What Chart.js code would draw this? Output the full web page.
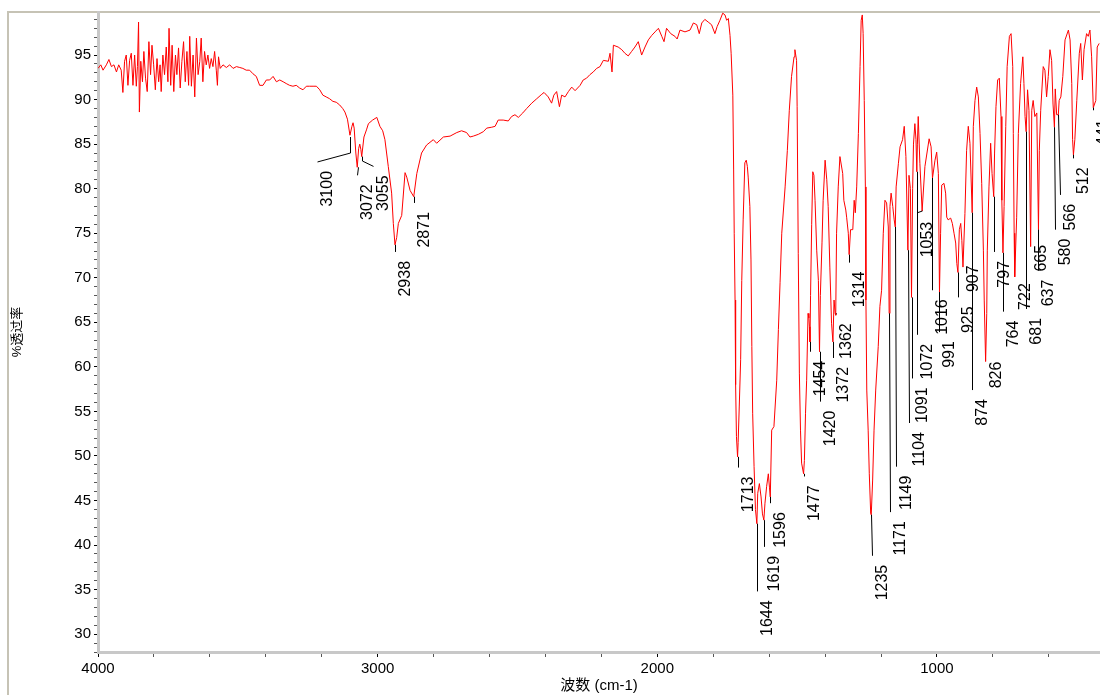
<!DOCTYPE html>
<html>
<head>
<meta charset="utf-8">
<script src="https://cdn.jsdelivr.net/npm/chart.js@4.4.1/dist/chart.umd.min.js"></script>
<style>
  html, body { margin: 0; padding: 0; background: #fff; overflow: hidden; }
  #ir { display: block; }
</style>
</head>
<body>
<canvas id="ir" width="1100" height="695"></canvas>
<script>
Chart.defaults.font.family = '"Liberation Sans", Arial, "Noto Sans CJK SC", sans-serif';

// spectrum, [wavenumber cm-1, %T]
const noisyBand = [
  [4000, 93.5], [3990, 93.9], [3982, 93.3], [3970, 93.9], [3961, 94.5], [3952, 93.7], [3943, 93.9], [3934, 93.1],
  [3926, 93.9], [3917, 93.3], [3911, 90.8], [3905, 94.3], [3899, 95.0], [3893, 91.6], [3887, 94.4], [3881, 95.2],
  [3875, 91.6], [3869, 95.0], [3863, 91.5], [3859, 93.7], [3855, 98.7], [3852, 88.6], [3847, 94.3], [3841, 92.0],
  [3836, 95.4], [3830, 92.4], [3824, 90.9], [3818, 96.5], [3812, 92.8], [3807, 96.1], [3801, 93.9], [3795, 91.1],
  [3789, 94.6], [3783, 92.0], [3778, 93.9], [3774, 90.9], [3768, 95.0], [3762, 92.8], [3756, 95.9], [3750, 92.0],
  [3746, 98.0], [3740, 91.6], [3735, 96.1], [3729, 90.9], [3723, 95.0], [3718, 92.8], [3712, 95.8], [3706, 91.3],
  [3700, 94.3], [3694, 96.5], [3688, 92.0], [3682, 95.4], [3676, 91.6], [3672, 97.1], [3666, 91.5], [3660, 95.0],
  [3654, 90.3], [3648, 96.9], [3642, 92.8], [3636, 94.3], [3631, 96.9], [3625, 92.0], [3619, 95.4], [3613, 93.9],
  [3607, 95.0], [3601, 93.5], [3595, 94.6], [3589, 93.7], [3583, 95.4], [3577, 93.3], [3573, 91.6], [3569, 94.8],
  [3563, 93.5], [3553, 93.9], [3541, 93.6], [3529, 93.9], [3517, 93.5], [3505, 93.7]
];
const chBand = [
  [3493, 93.6], [3482, 93.5], [3470, 93.3], [3458, 93.3], [3446, 92.9], [3434, 92.6], [3422, 91.6], [3410, 91.6],
  [3398, 92.2], [3386, 92.2], [3374, 92.6], [3362, 92.0], [3350, 92.2], [3338, 92.0], [3327, 91.8], [3315, 91.6],
  [3303, 91.5], [3291, 91.6], [3279, 91.3], [3267, 91.1], [3255, 91.5], [3243, 91.5], [3231, 91.5], [3219, 91.5],
  [3207, 91.1], [3196, 90.5], [3184, 90.3], [3172, 90.1], [3160, 89.8], [3148, 89.7], [3136, 89.4], [3125, 89.0],
  [3117, 88.6], [3108, 87.8], [3099, 86.0], [3092, 87.0], [3088, 87.4], [3084, 86.8], [3078, 84.0], [3073, 82.4],
  [3068, 84.5], [3064, 85.0], [3060, 84.4], [3057, 83.6], [3049, 85.8], [3040, 86.6], [3033, 87.3], [3018, 87.7],
  [3003, 88.0], [2992, 87.0], [2982, 86.5], [2974, 85.5], [2962, 82.5], [2950, 79.5], [2944, 76.1], [2938, 73.7],
  [2932, 74.5], [2926, 76.1], [2914, 77.0], [2902, 81.8], [2896, 81.3], [2884, 79.8], [2871, 79.1], [2860, 81.7],
  [2843, 84.0], [2825, 84.9], [2801, 85.5], [2789, 85.1]
];
const midBand = [
  [2765, 85.8], [2741, 85.9], [2717, 86.3], [2700, 86.5], [2682, 86.3], [2670, 85.8], [2658, 85.9], [2640, 86.1],
  [2622, 86.4], [2610, 86.8], [2592, 86.9], [2580, 87.0], [2569, 87.7], [2551, 87.7], [2533, 87.6], [2521, 88.1],
  [2509, 88.3], [2497, 88.0], [2481, 88.5], [2467, 89.0], [2449, 89.6], [2431, 90.1], [2413, 90.6], [2405, 90.8],
  [2390, 90.3], [2378, 89.6], [2370, 90.5], [2360, 90.9], [2350, 89.2], [2342, 90.5], [2330, 90.3], [2318, 90.9],
  [2306, 91.4], [2294, 91.0], [2276, 91.6], [2265, 92.2], [2253, 92.4], [2241, 92.8], [2229, 93.1], [2217, 93.5],
  [2205, 93.7], [2193, 94.4], [2175, 94.3], [2169, 95.2], [2162, 93.1], [2157, 96.1], [2140, 95.9], [2127, 95.6],
  [2116, 95.2], [2104, 94.9], [2092, 95.4], [2080, 95.9], [2068, 96.5], [2056, 95.0], [2044, 95.9], [2032, 96.7],
  [2020, 97.2], [2008, 97.6], [1996, 98.0], [1984, 97.1], [1976, 96.5], [1967, 98.0], [1952, 97.4], [1937, 97.1],
  [1929, 96.8], [1919, 97.8], [1901, 97.6], [1883, 97.8], [1871, 98.6], [1859, 98.4], [1850, 97.4], [1841, 98.6],
  [1830, 99.0], [1818, 98.7], [1806, 98.4], [1794, 97.4], [1786, 98.2], [1776, 98.9], [1766, 99.7], [1758, 99.5],
  [1752, 98.9], [1746, 99.1], [1740, 97.2]
];
const carbonylBand = [
  [1736, 95.2], [1730, 90.5], [1727, 82.1], [1725, 75.0], [1722, 67.5], [1720, 58.0], [1717, 52.2], [1713, 49.9],
  [1711, 51.5], [1707, 55.5], [1702, 60.8], [1698, 69.7], [1693, 76.5], [1687, 82.9], [1682, 83.2], [1678, 82.5],
  [1675, 81.3], [1669, 78.0], [1665, 72.0], [1662, 62.3], [1659, 54.8], [1654, 48.8], [1649, 44.0], [1644, 42.4],
  [1641, 45.8], [1635, 46.9], [1629, 45.4], [1624, 43.5], [1619, 42.8], [1615, 44.7], [1609, 46.6], [1603, 48.0],
  [1599, 46.5], [1596, 45.4], [1591, 52.9], [1583, 53.3], [1573, 58.5], [1567, 64.2], [1561, 69.5], [1555, 75.0],
  [1543, 80.2], [1535, 84.3], [1528, 88.8], [1520, 92.6], [1511, 94.8], [1508, 95.6], [1502, 94.4], [1500, 89.2],
  [1496, 72.7], [1492, 59.3], [1488, 52.9], [1484, 49.2], [1477, 48.0], [1474, 49.5], [1470, 54.8], [1466, 58.5],
  [1461, 66.0], [1458, 65.5], [1456, 64.5], [1454, 62.8], [1452, 68.0], [1448, 76.0], [1444, 81.9], [1440, 81.5],
  [1436, 78.7], [1430, 73.1], [1424, 69.7], [1420, 61.7], [1417, 68.0], [1411, 74.0], [1407, 78.7], [1400, 83.2],
  [1394, 81.0], [1389, 78.0], [1383, 71.2], [1377, 64.9], [1372, 62.8], [1368, 67.5], [1364, 66.0], [1362, 65.8],
  [1359, 75.0], [1353, 80.2], [1347, 83.6], [1337, 81.7], [1333, 78.7], [1326, 77.6], [1323, 76.8], [1317, 75.0],
  [1314, 72.6], [1309, 75.4], [1301, 75.4], [1296, 78.7], [1292, 77.3], [1287, 80.2], [1281, 86.2], [1275, 93.7],
  [1271, 98.9], [1267, 99.5], [1264, 97.4], [1260, 89.9], [1256, 80.2], [1254, 67.5], [1251, 57.4], [1246, 52.9],
  [1242, 48.0], [1237, 43.6], [1235, 43.4], [1230, 47.3], [1225, 52.9], [1219, 57.4], [1210, 62.3], [1204, 66.8],
  [1198, 68.6], [1192, 75.0], [1186, 78.7], [1180, 78.4], [1174, 75.7], [1171, 66.0], [1168, 78.0], [1164, 79.5],
  [1158, 78.0], [1153, 76.5], [1149, 75.7], [1146, 80.2], [1138, 82.8], [1132, 84.7], [1123, 85.5], [1117, 87.0],
  [1111, 83.6], [1104, 73.1]
];
const fingerprintBand = [
  [1100, 81.5], [1095, 80.0], [1091, 67.8], [1087, 80.0], [1084, 85.0], [1079, 87.3], [1075, 85.5], [1072, 81.9],
  [1070, 85.0], [1067, 88.1], [1061, 82.8], [1053, 77.5], [1043, 82.5], [1028, 85.6], [1021, 84.7], [1016, 81.2],
  [1007, 83.2], [1001, 84.1], [995, 81.7], [991, 68.4], [987, 75.0], [983, 80.4], [975, 80.6], [969, 79.5],
  [965, 76.8], [960, 76.5], [951, 76.7], [945, 76.1], [939, 75.0], [933, 73.9], [929, 71.6], [925, 70.6],
  [920, 75.4], [915, 76.1], [911, 74.2], [907, 71.2], [900, 77.2], [894, 84.3], [888, 87.0], [882, 85.1],
  [874, 77.3], [870, 87.0], [864, 89.9], [858, 91.4], [852, 90.3], [846, 86.2], [840, 80.6], [834, 73.1],
  [831, 67.5], [826, 60.6], [822, 66.0], [820, 73.1], [814, 80.2], [808, 85.1], [803, 81.7], [797, 79.1],
  [794, 84.0], [789, 89.2], [783, 92.2], [777, 92.4], [771, 88.1], [768, 78.7], [764, 72.8], [760, 78.0],
  [754, 87.0], [749, 93.7], [741, 97.1], [735, 97.4], [729, 93.7], [727, 86.2], [724, 75.0], [722, 70.1],
  [715, 76.8], [709, 86.2], [701, 91.8], [693, 94.8], [689, 91.8], [685, 88.1], [681, 86.4], [676, 91.1],
  [671, 88.8], [665, 73.5], [661, 88.8], [656, 89.9], [650, 88.1], [643, 88.5], [637, 75.4], [634, 84.3],
  [629, 88.8], [620, 93.7], [614, 93.3], [608, 90.3], [602, 92.6], [596, 95.6], [590, 94.4], [585, 89.5],
  [580, 86.9], [577, 91.2], [572, 88.3], [566, 88.3], [563, 89.9], [557, 90.3], [550, 92.6], [542, 96.7],
  [530, 97.8], [524, 96.7], [518, 91.8], [515, 85.5], [512, 83.8], [507, 85.5], [500, 89.9], [491, 95.2],
  [486, 96.3], [480, 92.2], [474, 95.6], [465, 97.4], [459, 97.1], [453, 97.8], [447, 94.8], [441, 89.1],
  [432, 89.9], [427, 95.9], [420, 96.3]
];

// axis ticks
const xTickValues = [4000, 3800, 3600, 3400, 3200, 3000, 2800, 2600, 2400, 2200, 2000, 1800, 1600, 1400, 1200, 1000, 800, 600];
const yTickValues = [];
for (let v = 28; v <= 99; v++) yTickValues.push(v);

// peak annotations: leader tip, bend and end (the label hangs from the end)
const peakLabels = [3100, 3072, 3055, 2938, 2871, 1713, 1644, 1619, 1596, 1477, 1454, 1420, 1372, 1362, 1314,
  1235, 1171, 1149, 1104, 1091, 1072, 1053, 1016, 991, 925, 907, 874, 826, 797, 764, 722, 681, 665, 637,
  580, 566, 512, 441];
const peakTipT = [85.8, 82.4, 83.6, 73.7, 79.1, 49.9, 42.4, 42.8, 45.4, 48.0, 62.8, 61.7, 62.8, 66.0, 72.6,
  43.4, 66.0, 75.7, 73.1, 67.8, 81.9, 77.5, 81.2, 68.4, 70.6, 72.4, 77.3, 61.6, 79.1, 72.8, 70.4, 86.4, 74.7, 75.4,
  86.9, 88.3, 83.8, 89.1];
const peakBendT = [84.0, 82.4, 83.1, 73.7, 79.1, 49.9, 42.4, 42.8, 45.4, 48.0, 62.8, 61.7, 62.8, 66.0, 72.6,
  43.4, 66.0, 75.7, 73.1, 67.8, 81.9, 77.5, 81.2, 68.4, 70.6, 72.4, 77.3, 61.6, 79.1, 72.8, 70.4, 86.4, 74.7, 75.4,
  86.9, 88.3, 83.8, 89.1];
const peakEndWn = [3217, 3073, 3016, 2938, 2871, 1712, 1643, 1619, 1596, 1477, 1454, 1420, 1372, 1362, 1314,
  1231, 1168, 1146, 1101, 1089, 1070, 1073, 1016, 991, 924, 906, 873, 826, 795, 763, 721, 681, 665, 637,
  577, 560, 512, 441];
const peakEndT = [83.0, 81.5, 82.5, 72.9, 78.4, 48.7, 34.8, 39.8, 44.7, 47.7, 61.7, 56.1, 61.0, 65.9, 71.7,
  38.8, 43.7, 48.8, 53.7, 58.7, 63.6, 77.3, 68.6, 63.9, 67.8, 72.4, 57.4, 61.6, 72.9, 66.2, 70.4, 66.5, 74.7, 70.8,
  75.4, 79.3, 83.4, 88.8];

const spectrum = [].concat(noisyBand, chBand, midBand, carbonylBand, fingerprintBand)
  .map(p => ({ x: p[0], y: p[1] }));

const framePlugin = {
  id: 'frame',
  beforeDraw: chart => {
    const ctx = chart.ctx;
    ctx.save();
    ctx.fillStyle = '#fff';
    ctx.fillRect(0, 0, chart.width, chart.height);
    ctx.strokeStyle = '#c6c3b5';
    ctx.lineWidth = 2;
    ctx.beginPath();
    ctx.moveTo(8, chart.height);
    ctx.lineTo(8, 12);
    ctx.lineTo(chart.width, 12);
    ctx.stroke();
    ctx.restore();
  }
};

const peakPlugin = {
  id: 'peaks',
  afterDatasetsDraw: chart => {
    const ctx = chart.ctx;
    const xAxis = chart.scales['x'];
    const yAxis = chart.scales['y'];
    ctx.save();
    ctx.strokeStyle = '#000';
    ctx.fillStyle = '#000';
    ctx.lineWidth = 1;
    ctx.font = '16px "Liberation Sans", Arial, sans-serif';
    peakLabels.forEach((p, i) => {
      const px = Math.round(xAxis.getPixelForValue(p)) + 0.5;
      const ex = Math.round(xAxis.getPixelForValue(peakEndWn[i])) + 0.5;
      const ty = yAxis.getPixelForValue(peakTipT[i]);
      const by = yAxis.getPixelForValue(peakBendT[i]);
      const ey = yAxis.getPixelForValue(peakEndT[i]);
      ctx.beginPath();
      ctx.moveTo(px, ty);
      ctx.lineTo(px, by);
      ctx.lineTo(ex, ey);
      ctx.stroke();
      ctx.save();
      ctx.translate(ex + 10, ey + 9);
      ctx.rotate(-Math.PI / 2);
      ctx.textAlign = 'right';
      ctx.textBaseline = 'middle';
      ctx.fillText(String(p), 0, 0);
      ctx.restore();
    });
    ctx.restore();
  }
};

const chart = new Chart(document.getElementById('ir'), {
  type: 'line',
  plugins: [framePlugin, peakPlugin],
  data: {
    datasets: [{
      label: 'IR',
      data: spectrum,
      borderColor: '#ff0000',
      borderWidth: 1,
      pointRadius: 0,
      tension: 0,
      fill: false
    }]
  },
  options: {
    responsive: false,
    animation: false,
    events: [],
    layout: { padding: { top: 12, left: 0, right: 0, bottom: 0 } },
    plugins: {
      legend: { display: false },
      tooltip: { enabled: false }
    },
    scales: {
      x: {
        type: 'linear',
        position: 'bottom',
        reverse: true,
        min: 417,
        max: 4000,
        afterBuildTicks: scale => { scale.ticks = xTickValues.map(v => ({ value: v })); },
        afterFit: scale => { scale.height = 43; },
        border: { display: true, color: '#c8c8c8', width: 3 },
        grid: {
          drawOnChartArea: false,
          drawTicks: true,
          tickLength: 5,
          color: ctx => ctx.tick && ctx.tick.value % 1000 === 0 ? '#000' : '#555'
        },
        ticks: {
          autoSkip: false,
          maxRotation: 0,
          padding: 3,
          color: '#000',
          font: { size: 15 },
          callback: value => value % 1000 === 0 ? value : ''
        },
        title: {
          display: true,
          text: '波数 (cm-1)',
          color: '#000',
          font: { size: 15 },
          padding: { top: 0, bottom: 0 }
        }
      },
      y: {
        min: 28,
        max: 99.83,
        afterBuildTicks: scale => { scale.ticks = yTickValues.map(v => ({ value: v })); },
        afterFit: scale => { scale.width = 98; },
        border: { display: true, color: '#c8c8c8', width: 3 },
        grid: {
          drawOnChartArea: false,
          drawTicks: true,
          tickLength: 4,
          color: ctx => ctx.tick && ctx.tick.value % 5 === 0 ? '#000' : '#555'
        },
        ticks: {
          autoSkip: false,
          padding: 3,
          color: '#000',
          font: { size: 15 },
          callback: value => value % 5 === 0 ? value : ''
        },
        title: {
          display: true,
          text: '%透过率',
          color: '#000',
          font: { size: 13 },
          padding: { top: 10, bottom: 0 }
        }
      }
    }
  }
});
</script>
</body>
</html>
